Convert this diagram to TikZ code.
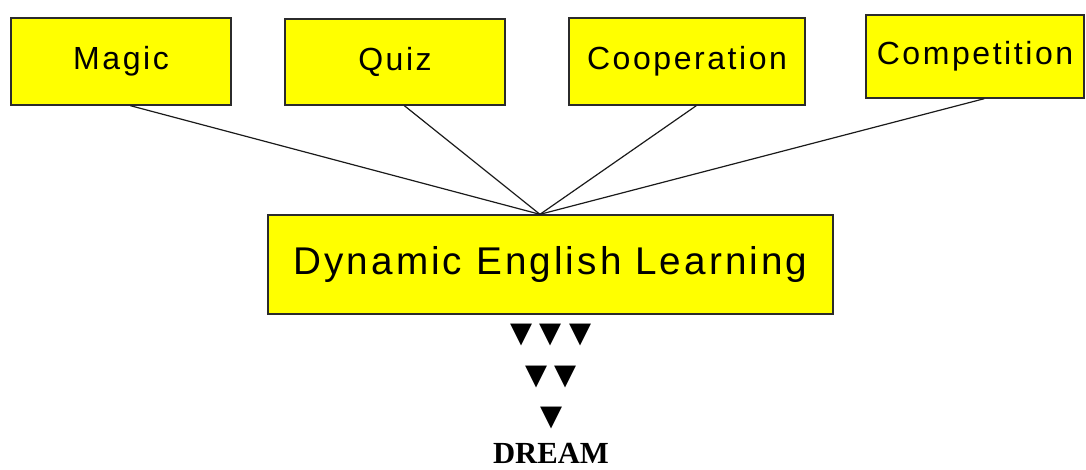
\documentclass[tikz,border=0pt]{standalone}
\usepackage{fontspec}
\setmainfont{Liberation Sans}
\newfontfamily\labelfont{Liberation Sans}[LetterSpace=8]
\newfontfamily\dreamfont{Liberation Serif}
\newfontfamily\symfont{DejaVu Sans}[LetterSpace=26]
\usepackage{tikz}
\definecolor{boxfill}{HTML}{FFFF00}
\definecolor{boxline}{HTML}{2B2B2B}
\definecolor{blackmain}{HTML}{1A1A1A}
\tikzset{topic/.style={draw=boxline,line width=1pt,fill=boxfill,inner sep=0pt,
  font=\labelfont\fontsize{24}{24}\selectfont},
hub/.style={topic,font=\labelfont\fontsize{29}{29}\selectfont},
link/.style={blackmain,line width=0.9pt},
drops/.style={inner sep=0pt,font=\symfont\fontsize{21.5}{21.5}\selectfont}}

\begin{document}
\begin{tikzpicture}[x=0.75pt,y=-0.75pt]
\useasboundingbox (0,0) rectangle (1086,470);
\node[topic,minimum width=165pt,minimum height=65.25pt] (magic) at (121,61.5) {Magic};
\node[topic,minimum width=165pt,minimum height=64.5pt] (quiz) at (395,62) {Quiz};
\node[topic,minimum width=177pt,minimum height=65.25pt] (coop) at (687,61.5) {Cooperation};
\node[topic,minimum width=163.5pt,minimum height=62.25pt] (comp) at (975,56.5) {Competition};
\node[hub,minimum width=423.75pt,minimum height=74.25pt] (dyn) at (550.5,264.5) {Dynamic English Learning};
\coordinate (apex) at ([xshift=-7.9pt]dyn.north);
\foreach \n in {magic,quiz,coop,comp}
 \draw[link] ([xshift=7pt]\n.south) -- (apex);
\node[drops] (row1) at (551,335.5) {▼▼▼};
\node[drops] (row2) at (551,377) {▼▼};
\node[drops] (row3) at (552,418.5) {▼};
\node[inner sep=0pt,font=\dreamfont\bfseries\fontsize{23}{23}\selectfont] (dream) at (551,453) {DREAM};
\end{tikzpicture}
\end{document}
